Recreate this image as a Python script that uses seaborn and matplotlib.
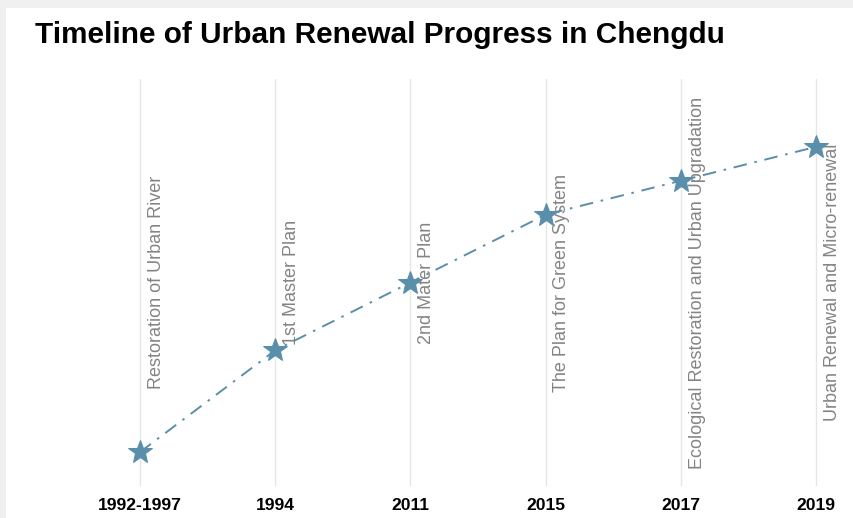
import numpy as np
import pandas as pd
import matplotlib
matplotlib.use('Agg')
import matplotlib.pyplot as plt
import seaborn as sb
from matplotlib.patches import Rectangle

# timeline data
periods = ['1992-1997', '1994', '2011', '2015', '2017', '2019']
progress = [1, 4, 6, 8, 9, 10]
events = ['Restoration of Urban River',
          '1st Master Plan',
          '2nd Mater Plan',
          'The Plan for Green System',
          'Ecological Restoration and Urban Upgradation',
          'Urban Renewal and Micro-renewal']

df = pd.DataFrame({'period': periods, 'progress': progress, 'event': events})
df['pos'] = np.arange(len(df))

sb.set_style('white')
plt.rcParams['font.family'] = ['Liberation Sans', 'DejaVu Sans']

fig = plt.figure(figsize=(8.54, 5.18), dpi=100, facecolor='#f0f0f0')
# white card on the grey page
fig.patches.append(Rectangle((6 / 854, 0), 1, 1 - 8 / 518, transform=fig.transFigure,
                             facecolor='white', edgecolor='none', zorder=-1))

ax = fig.add_axes([72.4 / 854, 32 / 518, (854 - 72.4) / 854, 407 / 518])
ax.set_facecolor('none')

sb.lineplot(data=df, x='pos', y='progress', ax=ax, color='#5a8fab',
            linewidth=1.4, marker='*', markersize=18,
            markeredgecolor='#5a8fab', zorder=3)
ax.lines[0].set_dashes([7, 4, 1.3, 4])

for i, row in df.iterrows():
    ax.axvline(row['pos'], color='#e6e6e6', linewidth=1, zorder=1)
    ax.text(row['pos'] + 0.12, 6, row['event'], rotation=90, ha='center', va='center',
            fontsize=13, color='#848484', zorder=2)

ax.set_xlim(-0.5, (854 - 140) / 135.2)
ax.set_ylim(0, 12)
ax.set_xticks(df['pos'])
ax.set_xticklabels(periods, fontsize=12.6, fontweight='bold', color='black')
ax.tick_params(axis='x', length=0, pad=9)
ax.set_yticks([])
ax.set_xlabel('')
ax.set_ylabel('')
sb.despine(ax=ax, left=True, bottom=True)

fig.text(35 / 854, 1 - 35 / 518, 'Timeline of Urban Renewal Progress in Chengdu',
         fontsize=21.4, fontweight='bold', color='black', ha='left', va='center')

fig.savefig('out.png', dpi=100, facecolor=fig.get_facecolor())
